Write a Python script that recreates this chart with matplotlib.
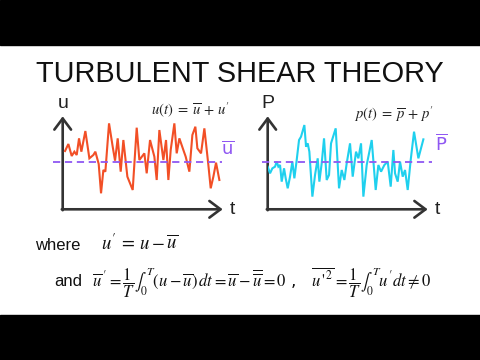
import matplotlib
matplotlib.use("Agg")
import matplotlib.pyplot as plt

plt.rcParams['mathtext.fontset'] = 'stix'

# ---- data ----
u_t = [0.7, 1.7, 2.7, 3.5, 4.2, 4.9, 5.6, 6.8, 8.0, 9.2, 9.8, 10.8, 11.5, 12.2, 12.8,
       13.9, 15.0, 15.7, 16.5, 17.4, 18.2, 19.4, 21.0, 22.2, 23.0, 24.5, 25.2, 26.2,
       27.5, 28.2, 29.0, 30.2, 31.0, 31.7, 32.4, 33.5, 34.2, 35.0, 36.2, 36.9, 38.0,
       38.9, 39.8, 40.4, 41.5, 42.5, 43.7, 44.4, 45.2, 46.0, 47.0]
u_val = [17.5, 19.6, 16.0, 17.3, 16.3, 21.3, 17.3, 23.5, 15.3, 16.3, 17.3, 13.6, 4.8,
         11.8, 11.3, 25.8, 18.8, 14.6, 21.3, 11.3, 20.8, 9.8, 5.8, 24.5, 14.8, 16.8,
         10.8, 20.8, 15.8, 8.8, 23.8, 14.8, 20.8, 8.8, 17.8, 25.8, 16.8, 21.3, 17.8,
         15.8, 11.3, 22.3, 24.8, 18.3, 16.8, 24.3, 13.3, 6.3, 9.8, 14.0, 8.8]
u_mean = 14.3

p_t = [0.0, 0.7, 1.4, 2.2, 2.7, 3.2, 3.7, 4.2, 4.9, 5.4, 6.0, 6.7, 7.4, 8.0, 8.7,
       9.4, 10.0, 11.0, 11.5, 12.0, 12.5, 13.4, 14.2, 15.0, 15.5, 16.2, 16.9, 17.7,
       18.4, 19.0, 20.4, 21.4, 22.2, 23.0, 23.7, 24.7, 25.5, 26.5, 27.2, 28.0, 28.7,
       29.7, 31.2, 32.4, 33.2, 34.0, 35.0, 36.0, 36.9, 37.7, 38.2, 39.0, 39.7, 40.5,
       41.2, 42.0, 42.9, 43.9, 45.2, 46.7]
p_val = [12.8, 10.8, 12.3, 12.8, 14.3, 12.8, 13.3, 8.3, 12.3, 9.3, 6.3, 9.8, 14.3, 9.3,
         14.8, 20.8, 21.8, 25.3, 18.8, 19.8, 17.3, 3.8, 10.3, 15.3, 8.3, 13.8, 21.3, 8.8,
         10.3, 19.8, 24.3, 6.3, 11.8, 8.8, 13.8, 19.8, 9.8, 17.3, 15.3, 19.8, 3.8, 13.3,
         20.8, 5.8, 13.3, 11.3, 13.3, 14.3, 6.8, 17.8, 10.8, 8.3, 14.3, 9.8, 11.8, 5.8,
         14.8, 23.3, 15.3, 21.0]
p_mean = 14.3

title = "TURBULENT SHEAR THEORY"

RED = '#f24f26'
CYAN = '#1fd0ee'
PURPLE = '#8f57f2'
AXC = '#333333'
W, H = 480, 360

fig = plt.figure(figsize=(4.8, 3.6), dpi=100)
bg = fig.add_axes([0, 0, 1, 1])
bg.set_xlim(0, W)
bg.set_ylim(H, 0)
bg.axis('off')
bg.add_patch(plt.Rectangle((0, 0), W, 45, color='black'))
bg.add_patch(plt.Rectangle((0, 315), W, 45, color='black'))

bg.text(240, 74, title, family='Liberation Sans', fontsize=20.8,
        ha='center', va='center', color='#111111')


def panel(x0, t, vals, mean, color, ylab, mlab, mlab_pos, eq, eq_pos, dash_x):
    y0 = 209.3
    ax = fig.add_axes([x0 / W, 1 - y0 / H, 160 / W, 92.6 / H])
    ax.set_xlim(0, 48)
    ax.set_ylim(0, 27.8)
    ax.axis('off')
    ax.plot(t, vals, color=color, lw=1.5, solid_joinstyle='miter')
    ax.plot(dash_x, [mean, mean], color=PURPLE, lw=1.3, ls=(0, (4, 2.6)),
            clip_on=False)
    ap = dict(arrowstyle='->,head_length=0.8,head_width=0.6', lw=1.9,
              color=AXC, shrinkA=0, shrinkB=0)
    bg.annotate('', xy=(x0, y0 - 93), xytext=(x0, y0 + 0.9), arrowprops=ap)
    bg.annotate('', xy=(x0 + 160, y0), xytext=(x0 - 0.9, y0), arrowprops=ap)
    bg.text(x0, 103, ylab, family='Liberation Sans', fontsize=14,
            ha='center', va='center', color='#222222')
    bg.text(x0 + 170, 210, 't', family='Liberation Sans', fontsize=14,
            ha='center', va='center', color='#222222')
    bg.text(mlab_pos[0], mlab_pos[1], mlab, fontsize=13, ha='center',
            va='center', color=PURPLE, math_fontfamily='dejavusans')
    bg.text(eq_pos[0], eq_pos[1], eq, fontsize=10.5, ha='center',
            va='center', color='#222222')
    return ax


panel(62.7, u_t, u_val, u_mean, RED, 'u', r'$\overline{\mathrm{u}}$', (228, 149),
      r"$u(t) \;=\; \overline{u} \,+\, u'$", (190, 110), [-2.9, 47.8])
panel(267.7, p_t, p_val, p_mean, CYAN, 'P', r'$\overline{\mathrm{P}}$', (441, 144),
      r"$p(t) \;=\; \overline{p} \,+\, p'$", (394, 115), [-1.8, 49.3])

bg.text(35, 245, 'where', family='Liberation Sans', fontsize=12,
        ha='left', va='center', color='#111111')
bg.text(101, 244, r"$u'\, =\, u - \overline{u}$", fontsize=13.5,
        ha='left', va='center', color='#111111')
bg.text(54, 281, 'and', family='Liberation Sans', fontsize=12,
        ha='left', va='center', color='#111111')
bg.text(92, 283,
        r"$\overline{u}\,' = \dfrac{1}{T}\int_0^T (u - \overline{u})\,dt"
        r" = \overline{u} - \overline{\overline{u}} = 0$ ,",
        fontsize=12, ha='left', va='center', color='#111111')
bg.text(311, 283,
        r"$\overline{u\,'^{\,2}} = \dfrac{1}{T}\int_0^T u'dt \neq 0$",
        fontsize=12, ha='left', va='center', color='#111111')

fig.savefig('out.png', dpi=100)
